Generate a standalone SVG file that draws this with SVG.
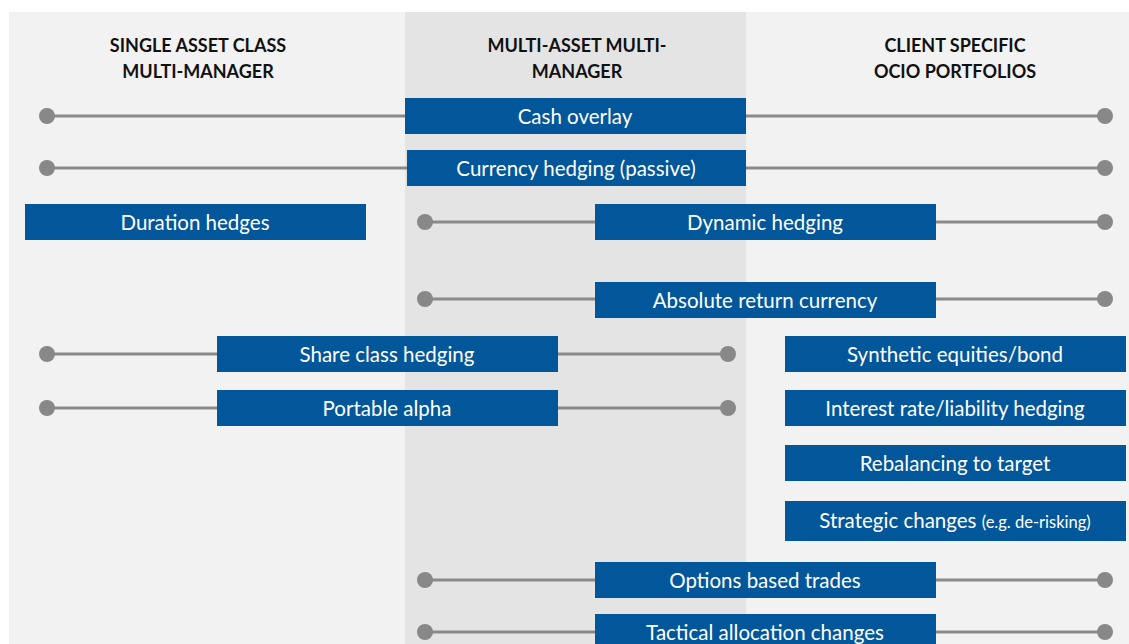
<svg xmlns="http://www.w3.org/2000/svg" width="1129" height="644" viewBox="0 0 1129 644">
<style>
.hdr{font-family:Lato,"Open Sans","Liberation Sans",sans-serif;font-weight:bold;font-size:18px;fill:#111;text-anchor:middle}
.box{fill:#02579a}
.lbl{font-family:Lato,"Open Sans","Liberation Sans",sans-serif;font-size:20.5px;fill:#fff;text-anchor:middle}
.small{font-size:16.5px}
.ln{stroke:#8a8a8a;stroke-width:3;fill:none}
.dot{fill:#888}
</style>
<rect x="0" y="0" width="1129" height="644" fill="#fff"/>
<rect x="9" y="12" width="1120" height="632" fill="#f2f2f2"/>
<rect x="405" y="12" width="341" height="632" fill="#e4e4e4"/>
<g id="headers">
<text class="hdr" x="198" y="52">SINGLE ASSET CLASS</text>
<text class="hdr" x="198" y="78">MULTI-MANAGER</text>
<text class="hdr" x="577" y="52">MULTI-ASSET MULTI-</text>
<text class="hdr" x="577" y="78">MANAGER</text>
<text class="hdr" x="955" y="52">CLIENT SPECIFIC</text>
<text class="hdr" x="955" y="78">OCIO PORTFOLIOS</text>
</g>
<g id="connectors">
<line class="ln" x1="47" y1="116" x2="1105" y2="116"/>
<circle class="dot" cx="47" cy="116" r="8"/><circle class="dot" cx="1105" cy="116" r="8"/>
<line class="ln" x1="47" y1="168" x2="1105" y2="168"/>
<circle class="dot" cx="47" cy="168" r="8"/><circle class="dot" cx="1105" cy="168" r="8"/>
<line class="ln" x1="425" y1="222" x2="1105" y2="222"/>
<circle class="dot" cx="425" cy="222" r="8"/><circle class="dot" cx="1105" cy="222" r="8"/>
<line class="ln" x1="425" y1="299" x2="1105" y2="299"/>
<circle class="dot" cx="425" cy="299" r="8"/><circle class="dot" cx="1105" cy="299" r="8"/>
<line class="ln" x1="47" y1="354" x2="728" y2="354"/>
<circle class="dot" cx="47" cy="354" r="8"/><circle class="dot" cx="728" cy="354" r="8"/>
<line class="ln" x1="47" y1="408" x2="728" y2="408"/>
<circle class="dot" cx="47" cy="408" r="8"/><circle class="dot" cx="728" cy="408" r="8"/>
<line class="ln" x1="425" y1="580" x2="1105" y2="580"/>
<circle class="dot" cx="425" cy="580" r="8"/><circle class="dot" cx="1105" cy="580" r="8"/>
<line class="ln" x1="425" y1="632" x2="1105" y2="632"/>
<circle class="dot" cx="425" cy="632" r="8"/><circle class="dot" cx="1105" cy="632" r="8"/>
</g>
<g id="cash-overlay"><rect class="box" x="405" y="98" width="341" height="36"/><text class="lbl" x="575" y="124">Cash overlay</text></g>
<g id="currency-hedging"><rect class="box" x="407" y="150" width="339" height="36"/><text class="lbl" x="576" y="176">Currency hedging (passive)</text></g>
<g id="duration-hedges"><rect class="box" x="25" y="204" width="341" height="36"/><text class="lbl" x="195" y="230">Duration hedges</text></g>
<g id="dynamic-hedging"><rect class="box" x="595" y="204" width="341" height="36"/><text class="lbl" x="765" y="230">Dynamic hedging</text></g>
<g id="absolute-return-currency"><rect class="box" x="595" y="282" width="341" height="36"/><text class="lbl" x="765" y="308">Absolute return currency</text></g>
<g id="share-class-hedging"><rect class="box" x="217" y="336" width="341" height="36"/><text class="lbl" x="387" y="362">Share class hedging</text></g>
<g id="portable-alpha"><rect class="box" x="217" y="390" width="341" height="36"/><text class="lbl" x="387" y="416">Portable alpha</text></g>
<g id="synthetic-equities"><rect class="box" x="785" y="336" width="341" height="36"/><text class="lbl" x="955" y="362">Synthetic equities/bond</text></g>
<g id="interest-rate-hedging"><rect class="box" x="785" y="390" width="341" height="36"/><text class="lbl" x="955" y="416">Interest rate/liability hedging</text></g>
<g id="rebalancing"><rect class="box" x="785" y="445" width="341" height="36"/><text class="lbl" x="955" y="471">Rebalancing to target</text></g>
<g id="strategic-changes"><rect class="box" x="785" y="501" width="341" height="40"/><text class="lbl" x="955" y="528">Strategic changes <tspan class="small">(e.g. de-risking)</tspan></text></g>
<g id="options-based-trades"><rect class="box" x="595" y="562" width="341" height="36"/><text class="lbl" x="765" y="588">Options based trades</text></g>
<g id="tactical-allocation"><rect class="box" x="595" y="614" width="341" height="36"/><text class="lbl" x="765" y="640">Tactical allocation changes</text></g>
</svg>
